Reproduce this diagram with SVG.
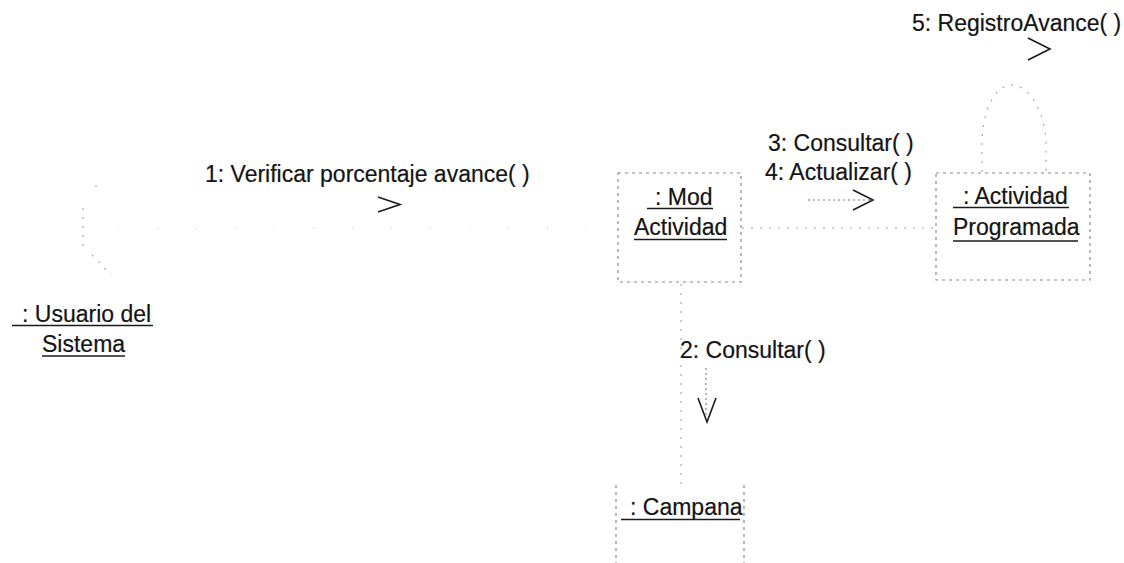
<svg xmlns="http://www.w3.org/2000/svg" width="1124" height="563" viewBox="0 0 1124 563">
  <style>
    .lbl { font-family: "Liberation Sans", Arial, sans-serif; font-size: 23px; fill: #141414; stroke: #141414; stroke-width: 0.2; }
    .ul { stroke: #1a1a1a; stroke-width: 1.7; }
    .box { fill: none; stroke: #8a8a8a; stroke-width: 1.2; stroke-dasharray: 3 4; }
    .link { fill: none; stroke: #a4a4a4; stroke-width: 1.1; stroke-dasharray: 2 7; }
    .faint { fill: none; stroke: #c8c8c8; stroke-width: 1.1; stroke-dasharray: 1 38; }
    .msg { fill: none; stroke: #7a7a7a; stroke-width: 1.1; stroke-dasharray: 2 3; }
    .head { fill: none; stroke: #1a1a1a; stroke-width: 1.6; stroke-linejoin: miter; }
  </style>
  <rect width="1124" height="563" fill="#ffffff"/>

  <!-- links between objects -->
  <g id="connectors">
    <line class="faint" x1="118" y1="229" x2="617" y2="228"/>
    <line class="link" x1="742" y1="228" x2="936" y2="228"/>
    <line class="link" x1="681" y1="284" x2="681" y2="484"/>
    <path class="link" d="M982,172 V145 C982,112 994,86 1011,85 C1030,85 1046,114 1046,145 V172"/>

    <!-- message 1 -->
    <text class="lbl" x="205" y="182">1: Verificar porcentaje avance( )</text>
    <polyline class="head" points="378,197 400,204.5 378,212"/>

    <!-- messages 3 and 4 -->
    <text class="lbl" x="768" y="151">3: Consultar( )</text>
    <text class="lbl" x="765" y="180">4: Actualizar( )</text>
    <line class="msg" x1="808" y1="200" x2="872" y2="200"/>
    <polyline class="head" points="853,190 873,200 853,210"/>

    <!-- message 2 -->
    <text class="lbl" x="680" y="358">2: Consultar( )</text>
    <line class="msg" x1="706" y1="368" x2="706" y2="418"/>
    <polyline class="head" points="698,398 707,422 716,398"/>

    <!-- message 5 (self) -->
    <text class="lbl" x="912" y="31">5: RegistroAvance( )</text>
    <polyline class="head" points="1028,38 1050,49 1028,60"/>
  </g>

  <!-- actor -->
  <g id="usuario">
    <circle cx="96" cy="186" r="0.8" fill="#999"/>
    <line class="link" x1="83" y1="208" x2="83" y2="246"/>
    <line class="link" x1="92" y1="255" x2="111" y2="275"/>
    <text class="lbl" x="22" y="322">: Usuario del</text>
    <line class="ul" x1="12" y1="325.5" x2="153" y2="325.5"/>
    <text class="lbl" x="42" y="352">Sistema</text>
    <line class="ul" x1="42" y1="356" x2="125" y2="356"/>
  </g>

  <g id="mod-actividad">
    <rect class="box" x="618" y="173" width="123" height="109"/>
    <text class="lbl" x="655" y="205">: Mod</text>
    <line class="ul" x1="647" y1="208.5" x2="713" y2="208.5"/>
    <text class="lbl" x="634" y="235">Actividad</text>
    <line class="ul" x1="634" y1="239.5" x2="727" y2="239.5"/>
  </g>

  <g id="actividad-programada">
    <rect class="box" x="936" y="173" width="154" height="107"/>
    <text class="lbl" x="963" y="204">: Actividad</text>
    <line class="ul" x1="953" y1="207.5" x2="1069" y2="207.5"/>
    <text class="lbl" x="953" y="235">Programada</text>
    <line class="ul" x1="953" y1="241" x2="1078" y2="241"/>
  </g>

  <g id="campana">
    <line class="box" x1="616" y1="485" x2="616" y2="563"/>
    <line class="box" x1="744" y1="485" x2="744" y2="563"/>
    <text class="lbl" x="630" y="515">: Campana</text>
    <line class="ul" x1="621" y1="519.5" x2="740" y2="519.5"/>
  </g>
</svg>
